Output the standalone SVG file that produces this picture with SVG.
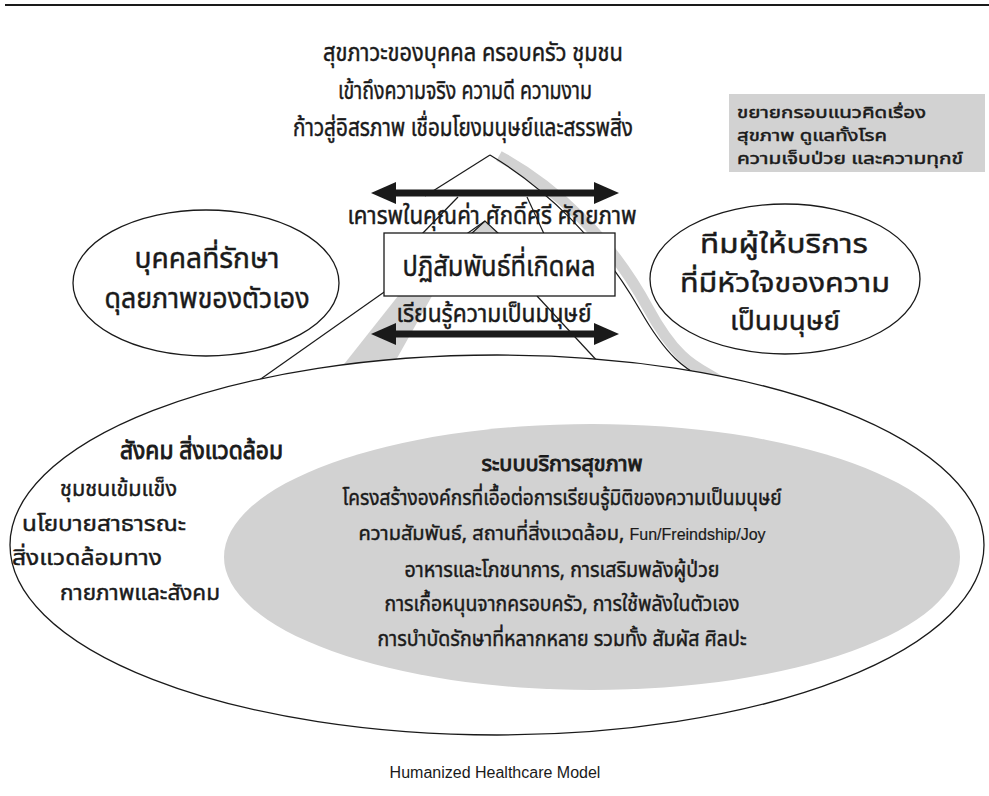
<svg xmlns="http://www.w3.org/2000/svg" width="989" height="796" viewBox="0 0 989 796">
<style>
.th{font-family:"Noto Sans Thai","Tahoma","Noto Sans","DejaVu Sans",sans-serif;fill:#1a1a1a;stroke:#1a1a1a;stroke-width:0.45}
.b{stroke-width:0.9}
.ln{fill:none;stroke:#1a1a1a;stroke-width:1.2}
.gy{fill:#d2d2d2}
.ol{fill:#fff;stroke:#1a1a1a;stroke-width:1.3}
.ar{stroke:#1a1a1a;stroke-width:7;fill:none;marker-start:url(#ah);marker-end:url(#ah)}
</style>
<defs>
<marker id="ah" markerUnits="userSpaceOnUse" markerWidth="26" markerHeight="24" refX="0" refY="11" orient="auto-start-reverse"><path d="M0,0 L25,11 L0,22 z" fill="#1a1a1a"/></marker>
</defs>
<rect width="989" height="796" fill="#fff"/>
<line x1="5" y1="5" x2="989" y2="5" stroke="#1a1a1a" stroke-width="2"/>

<g id="mountain">
<path class="gy" d="M398,296 L432,296 L378,392 L322,392 z"/>
<path d="M499,156 C556,187 610,238 648,308 S708,366 730,390" fill="none" stroke="#d2d2d2" stroke-width="11"/>
<path class="ln" d="M490,155 C545,188 600,240 640,310 S700,370 722,392"/>
<path class="ln" d="M490,155 L425,196"/>
<path class="ln" d="M458,197 L420,236"/>
<path class="ln" d="M527,197 L545,236"/>
<path class="gy" d="M485,221 L471,234 L499,234 z"/>
<path class="ln" d="M471,234 L485,221 L499,234"/>
<path class="ln" d="M485,221 L245,390"/>
<path class="ln" d="M537,296 L626,392"/>
</g>

<g id="society">
<ellipse class="ol" cx="497" cy="545" rx="487" ry="190"/>
<g class="th" font-size="22">
<text class="b" x="120" y="459" font-size="24" textLength="163" lengthAdjust="spacingAndGlyphs">สังคม สิ่งแวดล้อม</text>
<text x="60" y="496" textLength="117" lengthAdjust="spacingAndGlyphs">ชุมชนเข้มแข็ง</text>
<text x="22" y="531" textLength="164" lengthAdjust="spacingAndGlyphs">นโยบายสาธารณะ</text>
<text x="12" y="565" textLength="150" lengthAdjust="spacingAndGlyphs">สิ่งแวดล้อมทาง</text>
<text x="60" y="600" textLength="160" lengthAdjust="spacingAndGlyphs">กายภาพและสังคม</text>
</g>
</g>

<g id="health-system">
<ellipse class="gy" cx="592" cy="557" rx="368" ry="133"/>
<g class="th" font-size="21" text-anchor="middle">
<text class="b" x="562" y="471" textLength="161" lengthAdjust="spacingAndGlyphs">ระบบบริการสุขภาพ</text>
<text x="562" y="505" textLength="439" lengthAdjust="spacingAndGlyphs">โครงสร้างองค์กรที่เอื้อต่อการเรียนรู้มิติของความเป็นมนุษย์</text>
<text x="562" y="540" font-size="20">ความสัมพันธ์, สถานที่สิ่งแวดล้อม, <tspan font-family="Liberation Sans" font-size="16" stroke-width="0.2">Fun/Freindship/Joy</tspan></text>
<text x="562" y="577" textLength="315" lengthAdjust="spacingAndGlyphs">อาหารและโภชนาการ, การเสริมพลังผู้ป่วย</text>
<text x="562" y="611" textLength="355" lengthAdjust="spacingAndGlyphs">การเกื้อหนุนจากครอบครัว, การใช้พลังในตัวเอง</text>
<text x="562" y="646" textLength="369" lengthAdjust="spacingAndGlyphs">การบำบัดรักษาที่หลากหลาย รวมทั้ง สัมผัส ศิลปะ</text>
</g>
</g>

<g id="person">
<ellipse class="ol" cx="206" cy="283" rx="133" ry="73"/>
<g class="th" font-size="28" text-anchor="middle">
<text x="207" y="268" textLength="145" lengthAdjust="spacingAndGlyphs">บุคคลที่รักษา</text>
<text x="207" y="308" textLength="205" lengthAdjust="spacingAndGlyphs">ดุลยภาพของตัวเอง</text>
</g>
</g>

<g id="team">
<ellipse class="ol" cx="785" cy="279" rx="135" ry="75"/>
<g class="th" font-size="27" text-anchor="middle" stroke-width="0.7">
<text x="784" y="253" textLength="168" lengthAdjust="spacingAndGlyphs">ทีมผู้ให้บริการ</text>
<text x="785" y="292" textLength="210" lengthAdjust="spacingAndGlyphs">ที่มีหัวใจของความ</text>
<text x="785" y="330" textLength="110" lengthAdjust="spacingAndGlyphs">เป็นมนุษย์</text>
</g>
</g>

<g id="expand-note">
<rect class="gy" x="729" y="94" width="256" height="78"/>
<g class="th" font-size="15.5" stroke-width="0.6">
<text x="737" y="118" textLength="189" lengthAdjust="spacingAndGlyphs">ขยายกรอบแนวคิดเรื่อง</text>
<text x="737" y="141" textLength="150" lengthAdjust="spacingAndGlyphs">สุขภาพ ดูแลทั้งโรค</text>
<text x="737" y="164" textLength="226" lengthAdjust="spacingAndGlyphs">ความเจ็บป่วย และความทุกข์</text>
</g>
</g>

<g id="goal">
<g class="th" font-size="25" text-anchor="middle">
<text x="473" y="61" textLength="300" lengthAdjust="spacingAndGlyphs">สุขภาวะของบุคคล ครอบครัว ชุมชน</text>
<text x="465" y="99" textLength="254" lengthAdjust="spacingAndGlyphs">เข้าถึงความจริง ความดี ความงาม</text>
<text x="463" y="136" textLength="340" lengthAdjust="spacingAndGlyphs">ก้าวสู่อิสรภาพ เชื่อมโยงมนุษย์และสรรพสิ่ง</text>
</g>
</g>

<g id="connectors">
<line class="ar" x1="396" y1="193" x2="594" y2="193"/>
<line class="ar" x1="396" y1="334" x2="594" y2="334"/>
</g>

<g id="interaction">
<rect class="ol" x="384" y="233" width="231" height="63"/>
<text class="th" font-size="29" x="499" y="276" text-anchor="middle" textLength="193" lengthAdjust="spacingAndGlyphs">ปฏิสัมพันธ์ที่เกิดผล</text>
</g>
<text class="th" font-size="24" x="492" y="224" text-anchor="middle" textLength="289" lengthAdjust="spacingAndGlyphs">เคารพในคุณค่า ศักดิ์ศรี ศักยภาพ</text>
<text class="th" font-size="24" x="494" y="322" text-anchor="middle" textLength="195" lengthAdjust="spacingAndGlyphs">เรียนรู้ความเป็นมนุษย์</text>

<text x="495" y="778" font-family="Liberation Sans, Arial, sans-serif" font-size="16" fill="#1a1a1a" text-anchor="middle">Humanized Healthcare Model</text>
</svg>
